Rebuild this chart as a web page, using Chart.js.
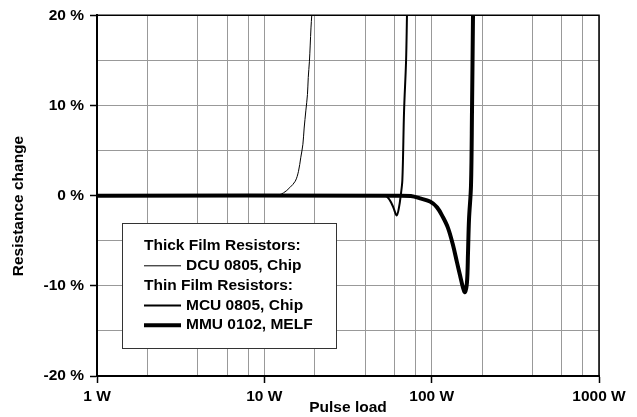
<!DOCTYPE html>
<html lang="en">
<head>
    <meta charset="UTF-8">
    <title>Pulse load vs resistance change</title>
    <script src="https://cdn.jsdelivr.net/npm/chart.js"></script>
    <style>
        body { margin: 0; background: #fff; }
        #wrap { width: 637px; height: 417px; position: relative; }
    </style>
</head>
<body>
    <div id="wrap"><canvas id="pulseChart"></canvas></div>

    <script>
        // values (pulse load in W, resistance change in %)
        const dcuLoad   = [1, 11.6, 13.0, 14.2, 15.3, 16.0, 16.5, 17.0, 17.3, 17.7, 18.1, 18.3, 18.6, 18.8, 19.0, 19.2];
        const dcuChange = [0, 0, 0.3, 0.9, 1.6, 2.7, 4.2, 5.7, 7.5, 9.4, 11.2, 13.1, 14.9, 16.7, 18.6, 20];

        const mcuLoad   = [1, 52.6, 56.4, 59.0, 61.8, 63.8, 65.3, 66.8, 68.4, 70.3, 71.2];
        const mcuChange = [0, 0, -0.55, -1.3, -2.2, -1.3, 0, 1.7, 9.4, 14.9, 20];

        const mmuLoad   = [1, 64.7, 75, 85.2, 97.8, 107.7, 116.9, 125.3, 134.2, 141.7, 147.6, 153.9, 158.2, 162.6, 164.9, 167.2, 171.8, 174.2, 176.6];
        const mmuChange = [0, 0, -0.05, -0.3, -0.66, -1.3, -2.4, -3.6, -5.5, -7.4, -8.8, -10.2, -10.7, -9.6, -6.3, -2.6, 1.1, 9.4, 20];

        const seriesNames = ['DCU 0805, Chip', 'MCU 0805, Chip', 'MMU 0102, MELF'];
        const groupNames = ['Thick Film Resistors:', 'Thin Film Resistors:'];

        const xGrid = [1, 2, 4, 6, 8, 10, 20, 40, 60, 80, 100, 200, 400, 600, 800, 1000];
        const xLabeled = [1, 10, 100, 1000];

        const toPoints = (xs, ys) => xs.map((x, i) => ({ x: x, y: ys[i] }));

        const FONT = '"Liberation Sans", Arial, Helvetica, sans-serif';
        Chart.defaults.font.family = FONT;
        Chart.defaults.font.size = 15.5;
        Chart.defaults.font.weight = 'bold';
        Chart.defaults.color = '#000';

        // frame, axis titles and the grouped legend box
        const extras = {
            id: 'extras',
            afterDatasetsDraw(chart) {
                const ctx = chart.ctx;
                const a = chart.chartArea;
                ctx.save();

                ctx.strokeStyle = '#000';
                ctx.lineWidth = 1.5;
                ctx.beginPath();
                ctx.moveTo(a.left, a.top);
                ctx.lineTo(a.right, a.top);
                ctx.lineTo(a.right, a.bottom);
                ctx.stroke();

                ctx.fillStyle = '#000';
                ctx.font = 'bold 15.5px ' + FONT;
                ctx.textAlign = 'center';
                ctx.textBaseline = 'middle';
                ctx.fillText('Pulse load', (a.left + a.right) / 2, 408);
                ctx.save();
                ctx.translate(19, 206);
                ctx.rotate(-Math.PI / 2);
                ctx.fillText('Resistance change', 0, 0);
                ctx.restore();

                // legend
                ctx.fillStyle = '#fff';
                ctx.fillRect(122, 223, 214, 125);
                ctx.strokeStyle = '#333';
                ctx.lineWidth = 1;
                ctx.strokeRect(122.5, 223.5, 214, 125);

                const ds = chart.data.datasets;
                const rows = [
                    { text: groupNames[0] },
                    { text: ds[0].label, w: ds[0].borderWidth },
                    { text: groupNames[1] },
                    { text: ds[1].label, w: ds[1].borderWidth },
                    { text: ds[2].label, w: ds[2].borderWidth }
                ];
                ctx.textAlign = 'left';
                ctx.fillStyle = '#000';
                rows.forEach((r, i) => {
                    const y = 246 + i * 19.8;
                    if (r.w) {
                        ctx.strokeStyle = '#000';
                        ctx.lineWidth = r.w;
                        ctx.beginPath();
                        ctx.moveTo(144, y);
                        ctx.lineTo(181, y);
                        ctx.stroke();
                        ctx.fillText(r.text, 186, y);
                    } else {
                        ctx.fillText(r.text, 144, y);
                    }
                });
                ctx.restore();
            }
        };

        new Chart(document.getElementById('pulseChart'), {
            type: 'line',
            data: {
                datasets: [
                    { label: seriesNames[0], data: toPoints(dcuLoad, dcuChange), borderWidth: 1 },
                    { label: seriesNames[1], data: toPoints(mcuLoad, mcuChange), borderWidth: 2 },
                    { label: seriesNames[2], data: toPoints(mmuLoad, mmuChange), borderWidth: 4 }
                ].map(d => Object.assign(d, {
                    borderColor: '#000',
                    pointRadius: 0,
                    fill: false,
                    tension: 0.35,
                    borderJoinStyle: 'round'
                }))
            },
            options: {
                responsive: true,
                maintainAspectRatio: false,
                animation: false,
                layout: { padding: { top: 14, right: 38, left: 0, bottom: 0 } },
                plugins: {
                    legend: { display: false },
                    tooltip: { enabled: false }
                },
                scales: {
                    x: {
                        type: 'logarithmic',
                        min: 1,
                        max: 1000,
                        afterBuildTicks: scale => {
                            scale.ticks = xGrid.map(v => ({ value: v }));
                        },
                        afterFit: scale => { scale.height = 41; },
                        ticks: {
                            autoSkip: false,
                            maxRotation: 0,
                            padding: 4,
                            callback: v => xLabeled.includes(v) ? v + ' W' : ''
                        },
                        grid: {
                            color: '#999',
                            tickLength: 7,
                            tickWidth: 1.5,
                            tickColor: c => c.tick && xLabeled.includes(c.tick.value) ? '#000' : 'rgba(0,0,0,0)'
                        },
                        border: { color: '#000', width: 2 }
                    },
                    y: {
                        min: -20,
                        max: 20,
                        afterFit: scale => { scale.width = 97; },
                        ticks: {
                            stepSize: 5,
                            padding: 6,
                            callback: v => v % 10 === 0 ? v + ' %' : ''
                        },
                        grid: {
                            color: '#999',
                            tickLength: 7,
                            tickWidth: 1.5,
                            tickColor: c => c.tick && c.tick.value % 10 === 0 ? '#000' : 'rgba(0,0,0,0)'
                        },
                        border: { color: '#000', width: 2 }
                    }
                }
            },
            plugins: [extras]
        });
    </script>
</body>
</html>
